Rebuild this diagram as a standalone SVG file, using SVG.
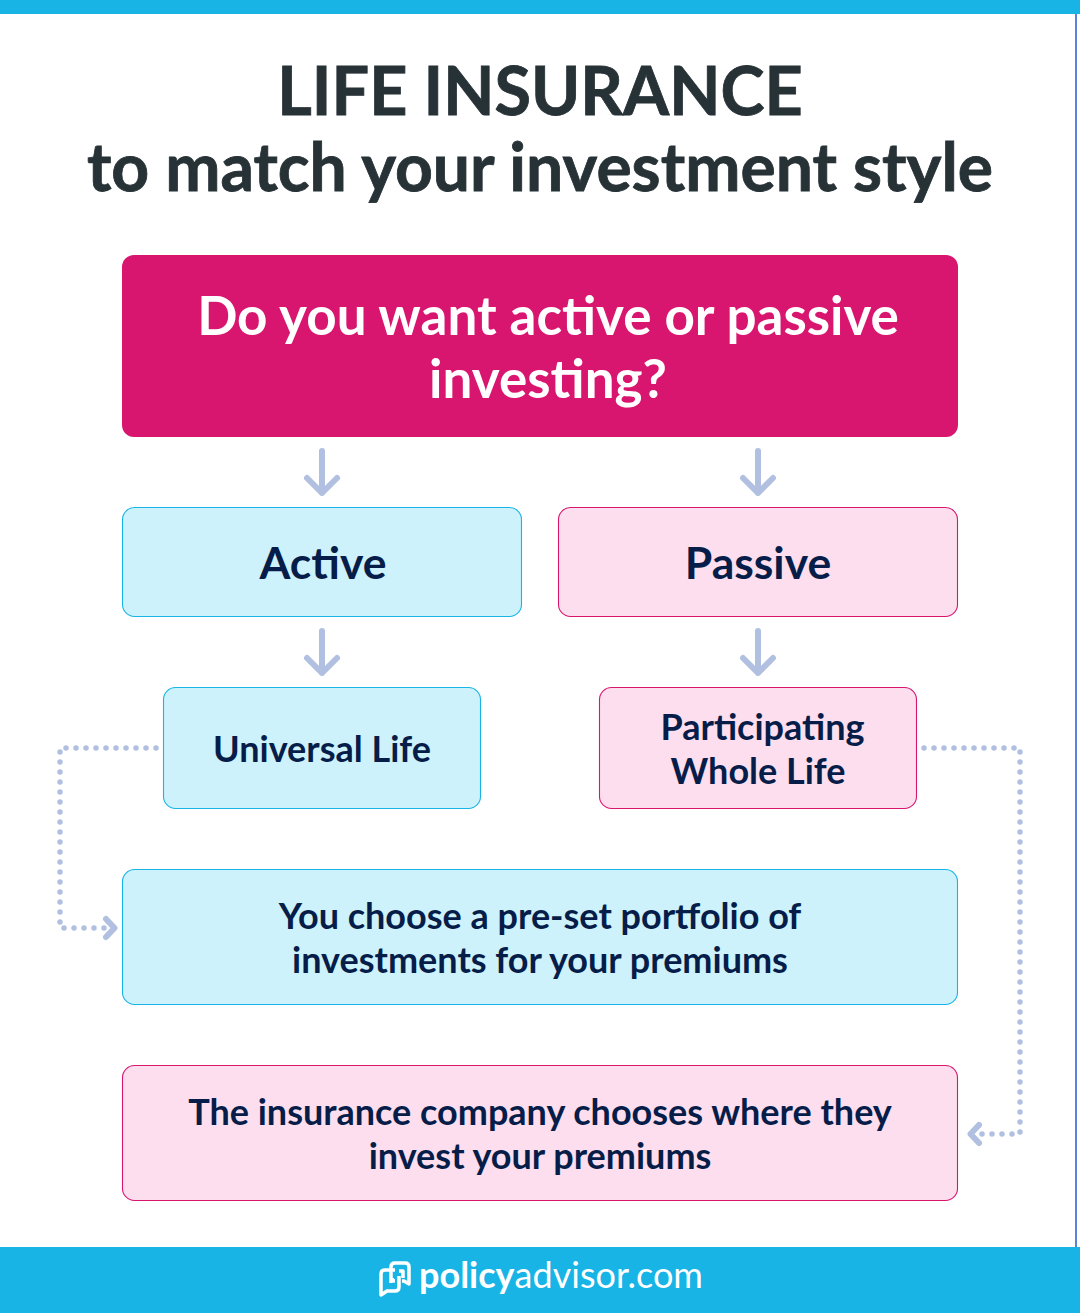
<svg xmlns="http://www.w3.org/2000/svg" width="1080" height="1313" viewBox="0 0 1080 1313">
<style>
text{font-family:Lato,"Noto Sans",sans-serif;text-anchor:middle}
.t{font-weight:700;fill:#273237;stroke:#273237;stroke-width:.8}
.h{font-weight:700;fill:#fff;font-size:53px}
.n{font-weight:700;fill:#071d49}
.blue{fill:#cdf2fc;stroke:#18b4e6;stroke-width:1.1}
.pink{fill:#fcdeee;stroke:#d9166f;stroke-width:1.1}
.a{fill:none;stroke:#b1c0e0;stroke-width:6;stroke-linecap:round;stroke-linejoin:round}
.d{fill:none;stroke:#b1c0e0;stroke-width:5.500;stroke-linecap:round;stroke-dasharray:0 10}
.l{fill:none;stroke:#fff;stroke-width:3.500;stroke-linejoin:round}
</style>
<rect width="1080" height="1313" fill="#fff"/>
<rect x="1075" y="14" width="2" height="1233" fill="#5b84d8"/>
<rect width="1080" height="14" fill="#18b4e6"/>
<g id="title">
<text class="t" x="540" y="115" font-size="66.500">LIFE INSURANCE</text>
<text class="t" x="540" y="191" font-size="66">to match your investment style</text>
</g>
<g id="connectors">
<path class="a" d="M322 451V493M307 478L322 493L337 478"/>
<path class="a" d="M758 451V493M743 478L758 493L773 478"/>
<path class="a" d="M322 631V673M307 658L322 673L337 658"/>
<path class="a" d="M758 631V673M743 658L758 673L773 658"/>
<path class="d" d="M156 748H65.500"/>
<path class="d" d="M60 752V922.500"/>
<path class="d" d="M64 928H104.500"/>
<path class="a" d="M106 919L114.500 928L106 937"/>
<path class="d" d="M924 748H1014.500"/>
<path class="d" d="M1020 752V1132.500"/>
<path class="d" d="M1012 1134H981.500"/>
<path class="a" d="M979 1125L970.500 1134L979 1143"/>
</g>
<g id="question">
<rect x="122" y="255" width="836" height="182" rx="12" fill="#d9166f"/>
<text class="h" x="548" y="335">Do you want active or passive</text>
<text class="h" x="548" y="398">investing?</text>
</g>
<g id="active">
<rect class="blue" x="122.500" y="507.500" width="399" height="109" rx="12"/>
<text class="n" x="323" y="579" font-size="44.500">Active</text>
</g>
<g id="passive">
<rect class="pink" x="558.500" y="507.500" width="399" height="109" rx="12"/>
<text class="n" x="758" y="579" font-size="44.500">Passive</text>
</g>
<g id="universal-life">
<rect class="blue" x="163.500" y="687.500" width="317" height="121" rx="12"/>
<text class="n" x="322" y="762" font-size="36">Universal Life</text>
</g>
<g id="participating">
<rect class="pink" x="599.500" y="687.500" width="317" height="121" rx="12"/>
<text class="n" x="762.500" y="740" font-size="36">Participating</text>
<text class="n" x="758" y="784" font-size="36">Whole Life</text>
</g>
<g id="active-desc">
<rect class="blue" x="122.500" y="869.500" width="835" height="135" rx="12"/>
<text class="n" x="540" y="929" font-size="36">You choose a pre-set portfolio of</text>
<text class="n" x="540" y="973" font-size="36">investments for your premiums</text>
</g>
<g id="passive-desc">
<rect class="pink" x="122.500" y="1065.500" width="835" height="135" rx="12"/>
<text class="n" x="540" y="1125" font-size="36">The insurance company chooses where they</text>
<text class="n" x="540" y="1169" font-size="36">invest your premiums</text>
</g>
<g id="footer">
<rect y="1247" width="1080" height="66" fill="#18b4e6"/>
<path class="l" d="M395 1270H385Q381 1270 381 1274V1295L387 1291H395Q399 1291 399 1287V1276"/>
<path class="l" d="M391 1283V1267Q391 1263 395 1263H405Q409 1263 409 1267V1284L404 1281H402M395 1281Q392 1281 392 1278M399 1271H403V1278"/>
<text x="561" y="1288" font-size="36" fill="#fff"><tspan font-weight="700">policy</tspan>advisor.com</text>
</g>
</svg>
